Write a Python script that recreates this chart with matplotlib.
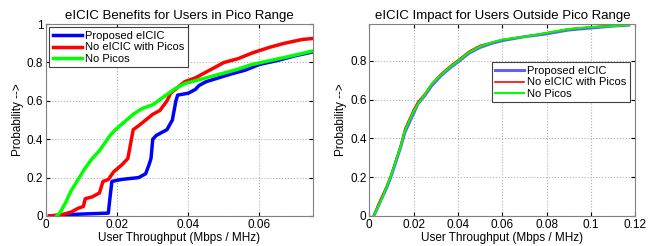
import numpy as np
import matplotlib.pyplot as plt

plt.rcParams['font.family'] = ['Liberation Sans', 'DejaVu Sans']

# left panel: users in pico range (CDF points)
prop_x = [0.001, 0.004, 0.010, 0.0175, 0.0180, 0.0185, 0.021, 0.026, 0.028, 0.029, 0.0295,
          0.030, 0.031, 0.034, 0.0355, 0.0365, 0.037, 0.040, 0.042, 0.043, 0.045,
          0.0485, 0.052, 0.056, 0.060, 0.065, 0.070, 0.075]
prop_y = [0.0, 0.005, 0.01, 0.015, 0.10, 0.18, 0.19, 0.20, 0.22, 0.27, 0.30,
          0.40, 0.42, 0.45, 0.50, 0.60, 0.63, 0.64, 0.66, 0.68, 0.70,
          0.72, 0.74, 0.76, 0.79, 0.81, 0.835, 0.855]

noe_x = [0.001, 0.004, 0.007, 0.009, 0.0105, 0.011, 0.013, 0.015, 0.016, 0.0175, 0.019,
         0.0215, 0.023, 0.0235, 0.0245, 0.026, 0.028, 0.030, 0.032, 0.034, 0.035,
         0.037, 0.039, 0.042, 0.045, 0.048, 0.050, 0.054, 0.058, 0.063, 0.067,
         0.072, 0.075]
noe_y = [0.0, 0.005, 0.02, 0.04, 0.05, 0.09, 0.10, 0.12, 0.18, 0.19, 0.23,
         0.27, 0.30, 0.35, 0.45, 0.47, 0.50, 0.53, 0.55, 0.60, 0.64,
         0.67, 0.70, 0.72, 0.75, 0.78, 0.80, 0.82, 0.85, 0.88, 0.90,
         0.92, 0.925]

nop_x = [0.003, 0.004, 0.0055, 0.007, 0.009, 0.011, 0.013, 0.015, 0.0165, 0.018, 0.0195,
         0.022, 0.0245, 0.027, 0.030, 0.033, 0.036, 0.039, 0.043, 0.047, 0.053,
         0.058, 0.063, 0.068, 0.075]
nop_y = [0.0, 0.02, 0.07, 0.13, 0.19, 0.25, 0.30, 0.34, 0.38, 0.42, 0.45,
         0.49, 0.53, 0.56, 0.58, 0.62, 0.66, 0.69, 0.71, 0.73, 0.76,
         0.79, 0.81, 0.83, 0.86]

# right panel: users outside pico range
out_x = [0.002, 0.004, 0.006, 0.008, 0.010, 0.012, 0.014, 0.016, 0.018, 0.020, 0.022,
         0.025, 0.028, 0.032, 0.036, 0.040, 0.045, 0.050, 0.055, 0.060, 0.070,
         0.080, 0.090, 0.100, 0.110, 0.117]
out_prop = [0.0, 0.05, 0.10, 0.15, 0.21, 0.28, 0.35, 0.43, 0.48, 0.53, 0.58,
            0.62, 0.67, 0.72, 0.76, 0.795, 0.84, 0.87, 0.89, 0.905, 0.925,
            0.94, 0.96, 0.97, 0.98, 0.985]
out_noe = [0.0, 0.06, 0.11, 0.16, 0.22, 0.29, 0.36, 0.45, 0.50, 0.55, 0.59,
           0.63, 0.68, 0.73, 0.77, 0.805, 0.85, 0.88, 0.895, 0.91, 0.925,
           0.945, 0.965, 0.975, 0.982, 0.985]
out_nop = [0.0, 0.05, 0.10, 0.155, 0.215, 0.285, 0.355, 0.44, 0.49, 0.54, 0.58,
           0.625, 0.68, 0.725, 0.765, 0.80, 0.845, 0.875, 0.895, 0.91, 0.925,
           0.945, 0.965, 0.975, 0.98, 0.985]

labels = ['Proposed eICIC', 'No eICIC with Picos', 'No Picos']
colors = ['#0000ff', '#ff0000', '#00ff00']

fig = plt.figure(figsize=(6.49, 2.46), dpi=100)
ax1 = fig.add_axes([0.071, 0.122, 0.411, 0.780])
ax2 = fig.add_axes([0.569, 0.122, 0.410, 0.780])

ax1.plot(prop_x, prop_y, color=colors[0], lw=2.5, label=labels[0])
ax1.plot(noe_x, noe_y, color=colors[1], lw=2.5, label=labels[1])
ax1.plot(nop_x, nop_y, color=colors[2], lw=2.5, label=labels[2])
ax1.set_xlim(0, 0.075)
ax1.set_ylim(0, 1)
ax1.set_xticks([0, 0.02, 0.04, 0.06])
ax1.set_xticklabels(['0', '0.02', '0.04', '0.06'])
ax1.set_yticks([0, 0.2, 0.4, 0.6, 0.8, 1])
ax1.set_yticklabels(['0', '0.2', '0.4', '0.6', '0.8', '1'])
ax1.set_title('eICIC Benefits for Users in Pico Range', fontsize=9.5, pad=4)
leg1 = ax1.legend(loc='upper left', fontsize=8, fancybox=False, framealpha=1,
                  borderaxespad=0.3, handlelength=2.6, handletextpad=0.3,
                  labelspacing=0.15, borderpad=0.3)

ax2.plot(out_x, out_prop, color='#6060ff', lw=2.2, label=labels[0])
ax2.plot(out_x, out_noe, color=colors[1], lw=1.2, label=labels[1])
ax2.plot(out_x, out_nop, color=colors[2], lw=1.5, label=labels[2])
ax2.set_xlim(0, 0.12)
ax2.set_ylim(0, 0.99)
ax2.set_xticks([0, 0.02, 0.04, 0.06, 0.08, 0.1, 0.12])
ax2.set_xticklabels(['0', '0.02', '0.04', '0.06', '0.08', '0.1', '0.12'])
ax2.set_yticks([0, 0.2, 0.4, 0.6, 0.8])
ax2.set_yticklabels(['0', '0.2', '0.4', '0.6', '0.8'])
ax2.set_title('eICIC Impact for Users Outside Pico Range', fontsize=9.5, pad=4)
leg2 = ax2.legend(loc='upper right', bbox_to_anchor=(0.98, 0.80), fontsize=8,
                  fancybox=False, framealpha=1, borderaxespad=0, handlelength=2.6,
                  handletextpad=0.3, labelspacing=0.15, borderpad=0.3)

for ax, leg in [(ax1, leg1), (ax2, leg2)]:
    leg.get_frame().set_edgecolor('#404040')
    leg.get_frame().set_linewidth(0.8)
    ax.grid(True, linestyle=':', color='#b0b0b0', lw=0.8)
    ax.tick_params(direction='in', labelsize=8.5, length=3, top=True, right=True, pad=2)
    ax.set_xlabel('User Throughput (Mbps / MHz)', fontsize=8.5, labelpad=1)
    ax.set_ylabel('Probability -->', fontsize=8.5, labelpad=2)
    for s in ax.spines.values():
        s.set_color('#808080')
        s.set_linewidth(0.8)

fig.savefig('out.png', dpi=100)
